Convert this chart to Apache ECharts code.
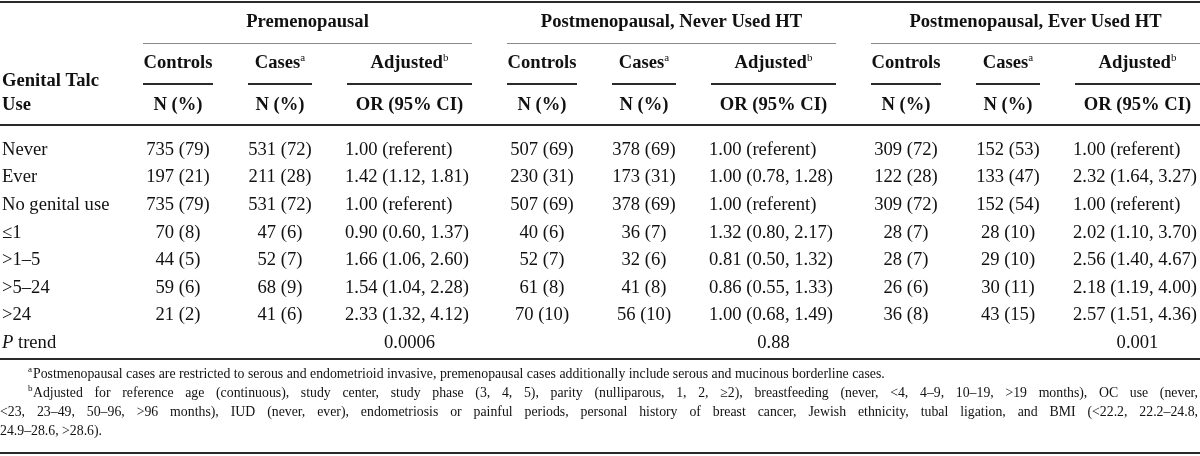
<!DOCTYPE html>
<html>
<head>
<meta charset="utf-8">
<script src="https://cdn.jsdelivr.net/npm/echarts@6/dist/echarts.min.js"></script>
<style>html,body{margin:0;padding:0;background:#fff}#c{width:1200px;height:456px}</style>
</head>
<body>
<div id="c"></div>
<script>
// ---------- data ----------
const groups = ['Premenopausal', 'Postmenopausal, Never Used HT', 'Postmenopausal, Ever Used HT'];
const subHeads = ['Controls', 'Cases', 'Adjusted'];
const subSups = ['', 'a', 'b'];
const unitHeads = ['N (%)', 'N (%)', 'OR (95% CI)'];
const stubHead = ['Genital Talc', 'Use'];
const rowLabels = ['Never', 'Ever', 'No genital use', '≤1', '>1–5', '>5–24', '>24'];
const preControls = ['735 (79)', '197 (21)', '735 (79)', '70 (8)', '44 (5)', '59 (6)', '21 (2)'];
const preCases = ['531 (72)', '211 (28)', '531 (72)', '47 (6)', '52 (7)', '68 (9)', '41 (6)'];
const preOR = ['1.00 (referent)', '1.42 (1.12, 1.81)', '1.00 (referent)', '0.90 (0.60, 1.37)', '1.66 (1.06, 2.60)', '1.54 (1.04, 2.28)', '2.33 (1.32, 4.12)'];
const neverControls = ['507 (69)', '230 (31)', '507 (69)', '40 (6)', '52 (7)', '61 (8)', '70 (10)'];
const neverCases = ['378 (69)', '173 (31)', '378 (69)', '36 (7)', '32 (6)', '41 (8)', '56 (10)'];
const neverOR = ['1.00 (referent)', '1.00 (0.78, 1.28)', '1.00 (referent)', '1.32 (0.80, 2.17)', '0.81 (0.50, 1.32)', '0.86 (0.55, 1.33)', '1.00 (0.68, 1.49)'];
const everControls = ['309 (72)', '122 (28)', '309 (72)', '28 (7)', '28 (7)', '26 (6)', '36 (8)'];
const everCases = ['152 (53)', '133 (47)', '152 (54)', '28 (10)', '29 (10)', '30 (11)', '43 (15)'];
const everOR = ['1.00 (referent)', '2.32 (1.64, 3.27)', '1.00 (referent)', '2.02 (1.10, 3.70)', '2.56 (1.40, 4.67)', '2.18 (1.19, 4.00)', '2.57 (1.51, 4.36)'];
const pTrend = ['0.0006', '0.88', '0.001'];
const footA = 'Postmenopausal cases are restricted to serous and endometrioid invasive, premenopausal cases additionally include serous and mucinous borderline cases.';
const footB = [
  'Adjusted for reference age (continuous), study center, study phase (3, 4, 5), parity (nulliparous, 1, 2, ≥2), breastfeeding (never, <4, 4–9, 10–19, >19 months), OC use (never,',
  '<23, 23–49, 50–96, >96 months), IUD (never, ever), endometriosis or painful periods, personal history of breast cancer, Jewish ethnicity, tubal ligation, and BMI (<22.2, 22.2–24.8,',
  '24.9–28.6, >28.6).'
];

// ---------- layout / style ----------
const FONT = '"Liberation Serif", "Times New Roman", serif';
const W = 1200, H = 456;
const groupStart = [143, 507, 871];
const subCol = [[0, 70], [105, 169], [204, 329]];
const adjTextOffset = 202;
const Y = {
  topRule: 2, group: 22, groupRule: 43, sub: 63, subRule: 84, unit: 105,
  stub1: 81, stub2: 105, headRule: 125, row0: 150, rowGap: 27.6,
  bodyRule: 359, foot: [374, 393, 412, 431], bottomRule: 453
};
const stubX = 2, footIndent = 33, footSupX = 28, footRight = 1198;
const bodySize = 18.6, footSize = 13.8;
const ink = '#111';

const groupCols = [
  [preControls, preCases, preOR],
  [neverControls, neverCases, neverOR],
  [everControls, everCases, everOR]
];

// ---------- build cells ----------
const cells = [];
function cell(x, y, text, opt) { cells.push(Object.assign({ x, y, text, align: 'center', size: bodySize, weight: 'normal' }, opt || {})); }

groups.forEach((g, gi) => {
  const s = groupStart[gi];
  cell(s + subCol[2][1] / 2, Y.group, g, { weight: 'bold' });
  subHeads.forEach((h, k) => {
    const cx = s + (subCol[k][0] + subCol[k][1]) / 2;
    const t = subSups[k] ? '{m|' + h + '}{s|' + subSups[k] + '}' : h;
    cell(cx, Y.sub, t, { weight: 'bold', rich: !!subSups[k] });
    cell(cx, Y.unit, unitHeads[k], { weight: 'bold' });
  });
  groupCols[gi].forEach((col, k) => {
    col.forEach((v, r) => {
      const y = Y.row0 + r * Y.rowGap;
      if (k === 2) cell(s + adjTextOffset, y, v, { align: 'left' });
      else cell(s + (subCol[k][0] + subCol[k][1]) / 2, y, v);
    });
  });
  cell(s + (subCol[2][0] + subCol[2][1]) / 2, Y.row0 + rowLabels.length * Y.rowGap, pTrend[gi]);
});
cell(stubX, Y.stub1, stubHead[0], { align: 'left', weight: 'bold' });
cell(stubX, Y.stub2, stubHead[1], { align: 'left', weight: 'bold' });
rowLabels.forEach((l, r) => cell(stubX, Y.row0 + r * Y.rowGap, l, { align: 'left' }));
cell(stubX, Y.row0 + rowLabels.length * Y.rowGap, '{i|P} trend', { align: 'left', rich: true });

// footnotes (justified lines are spread word by word)
const mctx = document.createElement('canvas').getContext('2d');
mctx.font = footSize + 'px ' + FONT;
function justify(text, x0, x1, y) {
  const words = text.split(' ');
  const ws = words.map(w => mctx.measureText(w).width);
  const sum = ws.reduce((a, b) => a + b, 0);
  const gap = (x1 - x0 - sum) / (words.length - 1);
  let x = x0;
  words.forEach((w, k) => { cell(x, y, w, { align: 'left', size: footSize }); x += ws[k] + gap; });
}
cell(footSupX, Y.foot[0] - 4, 'a', { align: 'left', size: 9 });
cell(footIndent, Y.foot[0], footA, { align: 'left', size: footSize });
cell(footSupX, Y.foot[1] - 4, 'b', { align: 'left', size: 9 });
justify(footB[0], footIndent, footRight, Y.foot[1]);
justify(footB[1], 0, footRight, Y.foot[2]);
cell(0, Y.foot[3], footB[2], { align: 'left', size: footSize });

// rules: [x1, y, x2, kind]
const rules = [];
rules.push([0, Y.topRule, W, 0]);
groupStart.forEach(s => {
  rules.push([s, Y.groupRule, s + subCol[2][1], 1]);
  subCol.forEach(c => rules.push([s + c[0], Y.subRule, s + c[1], 0]));
});
rules.push([0, Y.headRule, W, 0]);
rules.push([0, Y.bodyRule, W, 0]);
rules.push([0, Y.bottomRule, W, 0]);
const ruleStyle = [{ stroke: '#2a2a2a', lineWidth: 2 }, { stroke: '#8a8a8a', lineWidth: 1 }];

const chart = echarts.init(document.getElementById('c'), null, { renderer: 'canvas' });
chart.setOption({
  animation: false,
  backgroundColor: '#fff',
  grid: { left: 0, right: 0, top: 0, bottom: 0 },
  xAxis: { type: 'value', min: 0, max: W, show: false },
  yAxis: { type: 'value', min: 0, max: H, inverse: true, show: false },
  series: [
    {
      type: 'custom', clip: false, silent: true,
      data: rules,
      encode: { x: [0, 2], y: 1 },
      renderItem: (params, api) => {
        const k = api.value(3);
        const p1 = api.coord([api.value(0), api.value(1)]);
        const p2 = api.coord([api.value(2), api.value(1)]);
        const st = ruleStyle[k];
        const off = st.lineWidth % 2 ? 0.5 : 0;
        return { type: 'line', shape: { x1: p1[0], y1: p1[1] + off, x2: p2[0], y2: p2[1] + off }, style: { stroke: st.stroke, lineWidth: st.lineWidth } };
      }
    },
    {
      type: 'custom', clip: false, silent: true,
      data: cells.map((c, i) => [c.x, c.y, i]),
      encode: { x: 0, y: 1 },
      renderItem: (params, api) => {
        const c = cells[api.value(2)];
        const p = api.coord([api.value(0), api.value(1)]);
        const style = {
          text: c.text, fill: ink, fontFamily: FONT, fontSize: c.size, fontWeight: c.weight,
          align: c.align, verticalAlign: 'middle'
        };
        if (c.rich) {
          style.rich = {
            m: { fontFamily: FONT, fontSize: c.size, fontWeight: c.weight, fill: ink, lineHeight: 20 },
            s: { fontFamily: FONT, fontSize: 11, fontWeight: 'normal', fill: ink, lineHeight: 11, verticalAlign: 'top' },
            i: { fontFamily: FONT, fontSize: c.size, fontStyle: 'italic', fill: ink }
          };
        }
        return { type: 'text', x: p[0], y: p[1], style };
      }
    }
  ]
});
</script>
</body>
</html>
